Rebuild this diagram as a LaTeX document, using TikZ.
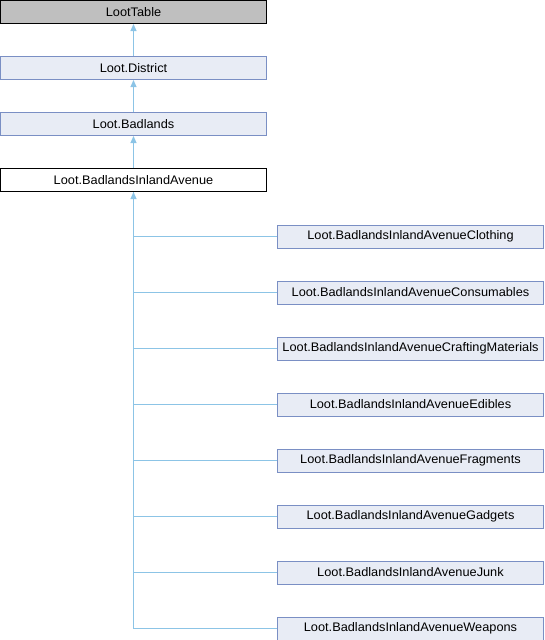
\documentclass[tikz,border=0pt]{standalone}
\usepackage{fontspec}
\setmainfont{Liberation Sans}[FakeStretch=1.03]
\usetikzlibrary{arrows.meta}
\definecolor{edgeblue}{HTML}{8CC4E6}
\definecolor{boxfill}{HTML}{E8ECF5}
\definecolor{boxline}{HTML}{7A8FC4}
\definecolor{greyfill}{HTML}{BFBFBF}
\tikzset{
  cls/.style={draw=boxline, fill=boxfill, line width=1pt, minimum width=266pt, minimum height=23pt,
    inner sep=0pt, font=\fontsize{12.4}{14}\selectfont, text=black},
  rootcls/.style={cls, draw=black, fill=greyfill},
  curcls/.style={cls, draw=black, fill=white},
  edge/.style={draw=edgeblue, line width=1pt},
  inh/.style={edge, -{Triangle[width=6pt,length=7pt]}, shorten >=0pt}
}
\begin{document}
\begin{tikzpicture}[x=1pt,y=-1pt]
\useasboundingbox (0,0) rectangle (544,640);
\node[rootcls] (lt) at (133.5,12) {LootTable};
\node[cls] (district) at (133.5,68) {Loot.District};
\node[cls] (badlands) at (133.5,124) {Loot.Badlands};
\node[curcls] (blia) at (133.5,180) {Loot.BadlandsInlandAvenue};
\node[cls] (c1) at (410.5,236.5) {Loot.BadlandsInlandAvenueClothing};
\node[cls] (c2) at (410.5,292.5) {Loot.BadlandsInlandAvenueConsumables};
\node[cls] (c3) at (410.5,348.5) {Loot.BadlandsInlandAvenueCraftingMaterials};
\node[cls] (c4) at (410.5,404.5) {Loot.BadlandsInlandAvenueEdibles};
\node[cls] (c5) at (410.5,460.5) {Loot.BadlandsInlandAvenueFragments};
\node[cls] (c6) at (410.5,516.5) {Loot.BadlandsInlandAvenueGadgets};
\node[cls] (c7) at (410.5,572.5) {Loot.BadlandsInlandAvenueJunk};
\node[cls] (c8) at (410.5,628.5) {Loot.BadlandsInlandAvenueWeapons};
\draw[inh] (district.north) -- (lt.south);
\draw[inh] (badlands.north) -- (district.south);
\draw[inh] (blia.north) -- (badlands.south);
\draw[inh] (c8.west) -| (blia.south);
\foreach \c in {c1,c2,c3,c4,c5,c6,c7} {
  \draw[edge] (blia.south) |- (\c.west);
}
\end{tikzpicture}
\end{document}
